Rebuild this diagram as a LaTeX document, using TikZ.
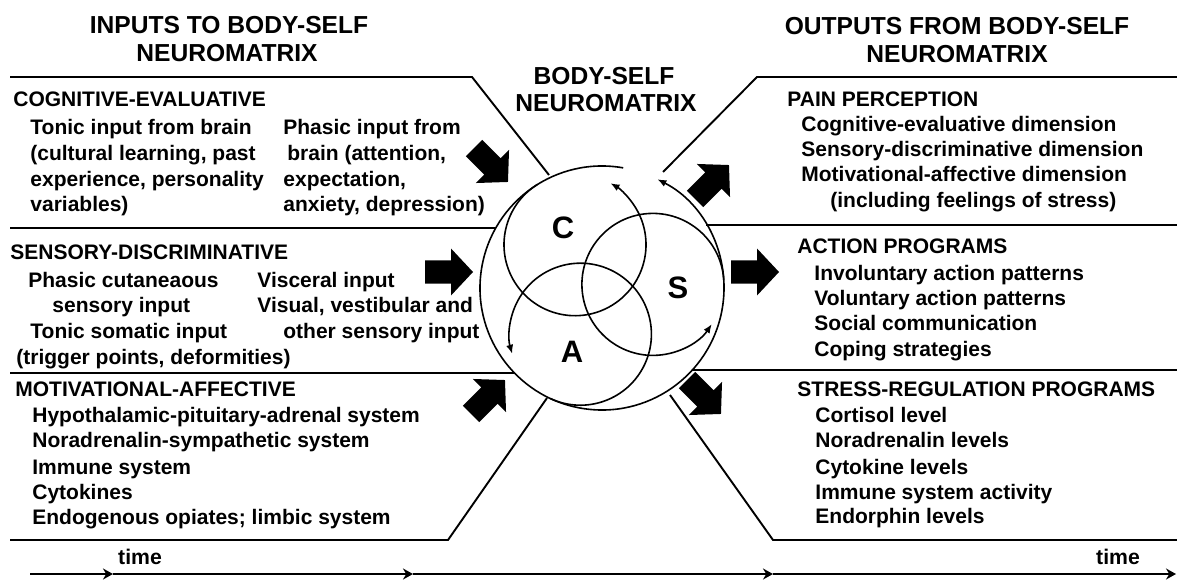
\documentclass[tikz,border=0pt]{standalone}
\usepackage{fontspec}
\setmainfont{Liberation Sans}
\usetikzlibrary{arrows.meta}
\newcommand{\fatarrow}[3]{\fill[fat, shift={(#1,#2)}, rotate=#3] (-24,-11.5) -- (2,-11.5) -- (2,-23.5) -- (24,0) -- (2,23.5) -- (2,11.5) -- (-24,11.5) -- cycle;}
\begin{document}
\begin{tikzpicture}[x=0.5pt,y=0.5pt,
  body/.style={anchor=base west, inner sep=0pt, font=\fontsize{10.5}{12}\selectfont\bfseries},
  head/.style={anchor=base west, inner sep=0pt, font=\fontsize{10.5}{12}\selectfont\bfseries},
  title/.style={anchor=base, inner sep=0pt, font=\fontsize{12.3}{14}\selectfont\bfseries},
  letter/.style={inner sep=0pt, font=\fontsize{15.5}{18}\selectfont\bfseries},
  timelabel/.style={inner sep=0pt, font=\fontsize{10.6}{12}\selectfont\bfseries},
  divider/.style={line width=0.95pt},
  ring/.style={line width=0.8pt},
  ringarrow/.style={ring, -{Latex[length=4.5pt,width=3.6pt]}},
  fat/.style={fill=black},
  timeline/.style={line width=1pt, -{Stealth[length=5pt,width=5.5pt]}}
]
\useasboundingbox (0,0) rectangle (1177,579);
\fill[white] (0,0) rectangle (1177,579);

% titles
\node[title] (tin1) at (229,545) {INPUTS TO BODY-SELF};
\node[title] (tin2) at (227,517) {NEUROMATRIX};
\node[title] (tmid1) at (604,494) {BODY-SELF};
\node[title] (tmid2) at (606,467) {NEUROMATRIX};
\node[title] (tout1) at (957,544) {OUTPUTS FROM BODY-SELF};
\node[title] (tout2) at (957,516) {NEUROMATRIX};

% circles
\coordinate (O) at (602,291);
\coordinate (Cc) at (575,334.3);
\coordinate (Sc) at (652.9,294.6);
\coordinate (Ac) at (580.4,244.8);
\draw[ringarrow] ([shift={(80:122)}]O) arc[start angle=80, end angle=423, radius=122];
\draw[ringarrow] ([shift={(122:71)}]Cc) arc[start angle=122, end angle=420, radius=71];
\draw[ringarrow] ([shift={(4:71)}]Sc) arc[start angle=4, end angle=326, radius=71];
\draw[ringarrow] ([shift={(245:71)}]Ac) arc[start angle=245, end angle=556, radius=71];
\node[letter] (lC) at (563,351) {C};
\node[letter] (lS) at (678,291) {S};
\node[letter] (lA) at (572,227) {A};

% dividers left
\draw[divider] (10,502) -- (472,502) -- (549,404);
\draw[divider] (10,351) -- (496,351);
\draw[divider] (10,206) -- (514,206);
\draw[divider] (10,39) -- (448,39) -- (547,181);
% dividers right
\draw[divider] (663,407) -- (757,502) -- (1177,502);
\draw[divider] (706,354) -- (1177,354);
\draw[divider] (692,209) -- (1177,209);
\draw[divider] (670,184) -- (773,39) -- (1177,39);

% fat arrows
\fatarrow{491}{414}{-45}
\fatarrow{449}{307}{0}
\fatarrow{488}{182}{45}
\fatarrow{712}{397}{45}
\fatarrow{755}{307}{0}
\fatarrow{704}{182}{-45}

% left texts
\node[head] (ce) at (13,472) {COGNITIVE-EVALUATIVE};
\node[body] (ce1) at (30,444) {Tonic input from brain};
\node[body] (ce2) at (30,418) {(cultural learning, past};
\node[body] (ce3) at (30,392) {experience, personality};
\node[body] (ce4) at (30,367) {variables)};
\node[body] (ce5) at (283,444) {Phasic input from};
\node[body] (ce6) at (287,418) {brain (attention,};
\node[body] (ce7) at (283,392) {expectation,};
\node[body] (ce8) at (283,367) {anxiety, depression)};

\node[head] (sd) at (10,320) {SENSORY-DISCRIMINATIVE};
\node[body] (sd1) at (28,292) {Phasic cutaneaous};
\node[body] (sd2) at (52,267) {sensory input};
\node[body] (sd3) at (30,241) {Tonic somatic input};
\node[body] (sd4) at (16,215) {(trigger points, deformities)};
\node[body] (sd5) at (257,292) {Visceral input};
\node[body] (sd6) at (257,267) {Visual, vestibular and};
\node[body] (sd7) at (283,241) {other sensory input};

\node[head] (ma) at (15,183) {MOTIVATIONAL-AFFECTIVE};
\node[body] (ma1) at (32,157) {Hypothalamic-pituitary-adrenal system};
\node[body] (ma2) at (32,132) {Noradrenalin-sympathetic system};
\node[body] (ma3) at (32,105) {Immune system};
\node[body] (ma4) at (32,80) {Cytokines};
\node[body] (ma5) at (32,55) {Endogenous opiates; limbic system};

% right texts
\node[head] (pp) at (787,472) {PAIN PERCEPTION};
\node[body] (pp1) at (801,447) {Cognitive-evaluative dimension};
\node[body] (pp2) at (801,422) {Sensory-discriminative dimension};
\node[body] (pp3) at (801,397) {Motivational-affective dimension};
\node[body] (pp4) at (830,371) {(including feelings of stress)};

\node[head] (ap) at (797,325) {ACTION PROGRAMS};
\node[body] (ap1) at (814,299) {Involuntary action patterns};
\node[body] (ap2) at (814,274) {Voluntary action patterns};
\node[body] (ap3) at (814,249) {Social communication};
\node[body] (ap4) at (814,223) {Coping strategies};

\node[head] (sr) at (797,183) {STRESS-REGULATION PROGRAMS};
\node[body] (sr1) at (815,157) {Cortisol level};
\node[body] (sr2) at (815,132) {Noradrenalin levels};
\node[body] (sr3) at (815,105) {Cytokine levels};
\node[body] (sr4) at (815,80) {Immune system activity};
\node[body] (sr5) at (815,56) {Endorphin levels};

% time axis
\coordinate (t0) at (30,5);
\coordinate (t1) at (113,5);
\coordinate (t2) at (413,5);
\coordinate (t3) at (773,5);
\coordinate (t4) at (1176,5);
\draw[timeline] (t0) -- (t1);
\draw[timeline] (t1) -- (t2);
\draw[timeline] (t2) -- (t3);
\draw[timeline] (t3) -- (t4);
\node[timelabel] (time1) at (140,22) {time};
\node[timelabel] (time2) at (1118,22) {time};
\end{tikzpicture}
\end{document}
